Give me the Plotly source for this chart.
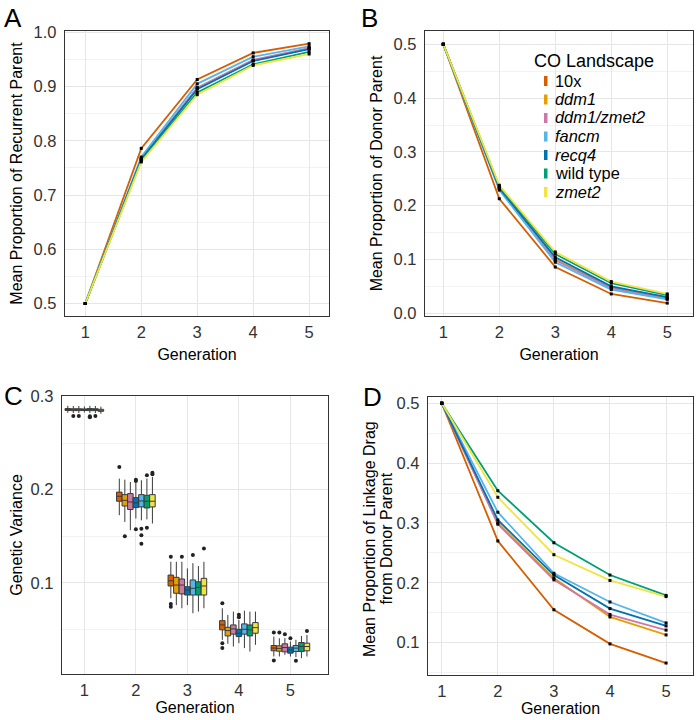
import plotly.graph_objects as go

# ---------------- data ----------------
landscapes = ["10x", "ddm1", "ddm1/zmet2", "fancm", "recq4", "wild type", "zmet2"]
legend_labels = ["10x", "<i>ddm1</i>", "<i>ddm1/zmet2</i>", "<i>fancm</i>",
                 "<i>recq4</i>", "wild type", "<i>zmet2</i>"]
colors = ["#D55E00", "#E69F00", "#CC79A7", "#56B4E9", "#0072B2", "#009E73", "#F0E442"]
generations = [1, 2, 3, 4, 5]

# Panel A: mean proportion of recurrent parent (rows follow `landscapes`)
recurrent_parent = [
    [0.5, 0.786, 0.913, 0.962, 0.979],
    [0.5, 0.767, 0.897, 0.948, 0.970],
    [0.5, 0.767, 0.898, 0.949, 0.971],
    [0.5, 0.770, 0.905, 0.955, 0.974],
    [0.5, 0.766, 0.895, 0.947, 0.969],
    [0.5, 0.763, 0.889, 0.941, 0.964],
    [0.5, 0.761, 0.885, 0.939, 0.960],
]

# Panel B: mean proportion of donor parent
donor_parent = [
    [0.5, 0.213, 0.086, 0.036, 0.019],
    [0.5, 0.232, 0.100, 0.048, 0.028],
    [0.5, 0.232, 0.099, 0.047, 0.027],
    [0.5, 0.229, 0.095, 0.044, 0.026],
    [0.5, 0.233, 0.104, 0.050, 0.030],
    [0.5, 0.236, 0.110, 0.056, 0.034],
    [0.5, 0.238, 0.114, 0.059, 0.036],
]

# Panel D: mean proportion of linkage drag from donor parent
linkage_drag = [
    [0.5, 0.270, 0.155, 0.098, 0.066],
    [0.5, 0.300, 0.208, 0.143, 0.113],
    [0.5, 0.298, 0.205, 0.147, 0.121],
    [0.5, 0.318, 0.216, 0.168, 0.133],
    [0.5, 0.305, 0.213, 0.157, 0.128],
    [0.5, 0.354, 0.267, 0.213, 0.179],
    [0.5, 0.343, 0.247, 0.204, 0.177],
]

# Panel C: genetic variance box statistics (rows follow `landscapes`)
box_slot = [0, 1, 2, 4, 3, 5, 6]   # dodge position of each landscape in panel C
var_q1 = [
    [0.2850, 0.1875, 0.0965, 0.0494, 0.0269],
    [0.2848, 0.1824, 0.0887, 0.0429, 0.0265],
    [0.2848, 0.1786, 0.0880, 0.0448, 0.0258],
    [0.2848, 0.1814, 0.0868, 0.0448, 0.0261],
    [0.2850, 0.1807, 0.0868, 0.0422, 0.0244],
    [0.2848, 0.1803, 0.0868, 0.0429, 0.0261],
    [0.2840, 0.1814, 0.0868, 0.0458, 0.0269],
]
var_median = [
    [0.2860, 0.1928, 0.1021, 0.0547, 0.0298],
    [0.2858, 0.1885, 0.0975, 0.0486, 0.0295],
    [0.2858, 0.1867, 0.0975, 0.0504, 0.0304],
    [0.2860, 0.1878, 0.0940, 0.0500, 0.0298],
    [0.2858, 0.1857, 0.0922, 0.0458, 0.0279],
    [0.2858, 0.1875, 0.0950, 0.0494, 0.0315],
    [0.2852, 0.1875, 0.0965, 0.0518, 0.0315],
]
var_q3 = [
    [0.2870, 0.1973, 0.1082, 0.0593, 0.0326],
    [0.2868, 0.1946, 0.1058, 0.0522, 0.0322],
    [0.2868, 0.1957, 0.1040, 0.0547, 0.0344],
    [0.2870, 0.1946, 0.1030, 0.0558, 0.0326],
    [0.2866, 0.1914, 0.0957, 0.0500, 0.0308],
    [0.2868, 0.1939, 0.1010, 0.0547, 0.0358],
    [0.2862, 0.1946, 0.1047, 0.0572, 0.0351],
]
var_lower = [
    [0.2825, 0.1725, 0.0833, 0.0387, 0.0208],
    [0.2822, 0.1653, 0.0760, 0.0344, 0.0208],
    [0.2822, 0.1564, 0.0726, 0.0315, 0.0226],
    [0.2822, 0.1670, 0.0672, 0.0298, 0.0201],
    [0.2828, 0.1690, 0.0760, 0.0351, 0.0208],
    [0.2822, 0.1680, 0.0690, 0.0261, 0.0190],
    [0.2815, 0.1636, 0.0726, 0.0333, 0.0208],
]
var_upper = [
    [0.2900, 0.2118, 0.1225, 0.0726, 0.0422],
    [0.2898, 0.2107, 0.1225, 0.0654, 0.0404],
    [0.2898, 0.2081, 0.1225, 0.0690, 0.0405],
    [0.2900, 0.2100, 0.1210, 0.0700, 0.0387],
    [0.2893, 0.2070, 0.1154, 0.0600, 0.0369],
    [0.2898, 0.2118, 0.1180, 0.0690, 0.0429],
    [0.2890, 0.2135, 0.1225, 0.0690, 0.0440],
]
outlier_landscape = [
    "ddm1", "ddm1/zmet2", "fancm", "fancm", "wild type",
    "10x", "ddm1", "recq4", "recq4", "recq4", "fancm", "fancm", "fancm",
    "wild type", "wild type", "zmet2", "zmet2",
    "10x", "10x", "10x", "ddm1/zmet2", "fancm", "zmet2",
    "10x", "10x", "10x", "recq4", "recq4",
    "10x", "10x", "ddm1", "ddm1/zmet2", "recq4", "fancm", "zmet2",
]
outlier_gen = [
    1, 1, 1, 1, 1,
    2, 2, 2, 2, 2, 2, 2, 2,
    2, 2, 2, 2,
    3, 3, 3, 3, 3, 3,
    4, 4, 4, 4, 4,
    5, 5, 5, 5, 5, 5, 5,
]
outlier_value = [
    0.2790, 0.2790, 0.2778, 0.2788, 0.2790,
    0.2242, 0.1500, 0.2107, 0.2092, 0.1575, 0.1580, 0.1510, 0.1418,
    0.2153, 0.1590, 0.2180, 0.2166,
    0.1278, 0.0772, 0.0743, 0.1280, 0.1297, 0.1368,
    0.0779, 0.0351, 0.0298, 0.0655, 0.0630,
    0.0465, 0.0165, 0.0465, 0.0447, 0.0405, 0.0162, 0.0483,
]

# ---------------- figure ----------------
W, H = 700, 720
FONT = "Liberation Sans, Arial, Helvetica, sans-serif"
TICK = 16.5
fig = go.Figure()


def line_panel(values, xa, ya):
    for i, name in enumerate(landscapes):
        fig.add_trace(go.Scatter(
            x=generations, y=values[i], mode="lines", name=name,
            line=dict(color=colors[i], width=1.8), showlegend=False,
            xaxis=xa, yaxis=ya))
    for i, name in enumerate(landscapes):
        fig.add_trace(go.Scatter(
            x=generations, y=values[i], mode="markers", name=name,
            marker=dict(color="black", size=3, symbol="square"),
            showlegend=False, xaxis=xa, yaxis=ya))


line_panel(recurrent_parent, "x", "y")
line_panel(donor_parent, "x2", "y2")
line_panel(linkage_drag, "x4", "y4")

# Panel C boxes
dodge = 0.75
n = len(landscapes)
bw = dodge / n
for i, name in enumerate(landscapes):
    off = (box_slot[i] - (n - 1) / 2) * bw
    xs = [g + off for g in generations]
    fig.add_trace(go.Box(
        x=xs, q1=var_q1[i], median=var_median[i], q3=var_q3[i],
        lowerfence=var_lower[i], upperfence=var_upper[i],
        width=bw, whiskerwidth=0, fillcolor=colors[i],
        line=dict(color="#3a3a3a", width=1), name=name, showlegend=False,
        xaxis="x3", yaxis="y3"))
    ox = [g + off for g, l in zip(outlier_gen, outlier_landscape) if l == name]
    oy = [v for v, l in zip(outlier_value, outlier_landscape) if l == name]
    fig.add_trace(go.Scatter(
        x=ox, y=oy, mode="markers", name=name,
        marker=dict(color="#222222", size=4), showlegend=False,
        xaxis="x3", yaxis="y3"))


def px_dom_x(a, b):
    return [a / W, b / W]


def px_dom_y(top, bottom):
    return [1 - bottom / H, 1 - top / H]


def xaxis(dom, rng, anchor, standoff):
    return dict(domain=dom, range=rng, anchor=anchor, dtick=1, tick0=0,
                showline=True, mirror=True, linecolor="#333333", linewidth=1.3,
                showgrid=True, gridcolor="#E6E6E6", gridwidth=1, zeroline=False,
                ticks="", ticklabelstandoff=1,
                tickfont=dict(size=TICK, color="#333333", family=FONT),
                title=dict(text="Generation", standoff=standoff,
                           font=dict(size=16, color="black", family=FONT)),
                automargin=False)


def yaxis(dom, rng, anchor, title, standoff):
    return dict(domain=dom, range=rng, anchor=anchor, dtick=0.1, tick0=0,
                tickformat=".1f",
                showline=True, mirror=True, linecolor="#333333", linewidth=1.3,
                showgrid=True, gridcolor="#E6E6E6", gridwidth=1, zeroline=False,
                minor=dict(dtick=0.05, tick0=0, showgrid=True,
                           gridcolor="#F3F3F3", gridwidth=1),
                ticks="", ticklabelstandoff=4,
                tickfont=dict(size=TICK, color="#333333", family=FONT),
                title=dict(text=title, standoff=standoff,
                           font=dict(size=16, color="black", family=FONT)),
                automargin=False)


fig.update_layout(
    width=W, height=H,
    margin=dict(l=0, r=0, t=0, b=0),
    paper_bgcolor="white", plot_bgcolor="white",
    font=dict(family=FONT, color="black"),
    showlegend=False,
    boxmode="overlay",
    xaxis=xaxis(px_dom_x(65, 329), [0.6375, 5.355], "y", 8),
    yaxis=yaxis(px_dom_y(31, 316), [0.477, 1.0024], "x",
                "Mean Proportion of Recurrent Parent", 7),
    xaxis2=xaxis(px_dom_x(425, 693), [0.673, 5.46], "y2", 8),
    yaxis2=yaxis(px_dom_y(31, 316), [-0.005, 0.5247], "x2",
                 "Mean Proportion of Donor Parent", 7),
    xaxis3=xaxis(px_dom_x(62, 328), [0.566, 5.73], "y3", 3),
    yaxis3=yaxis(px_dom_y(396, 674), [0.002, 0.3005], "x3",
                 "Genetic Variance", 4),
    xaxis4=xaxis(px_dom_x(428, 693), [0.755, 5.48], "y4", 3),
    yaxis4=yaxis(px_dom_y(397, 675), [0.046, 0.5105], "x4", "", 0),
)

annotations = []
# panel D y-axis title, two tightly spaced lines
for txt, cx in [("Mean Proportion of Linkage Drag", 369), ("from Donor Parent", 385.5)]:
    annotations.append(dict(text=txt, x=cx / W, y=1 - 539 / H, xref="paper", yref="paper",
                            xanchor="center", yanchor="middle", textangle=-90,
                            borderpad=0,
                            showarrow=False, font=dict(size=16, color="black", family=FONT)))

# panel letters
for letter, cx, cy in [("A", 12.5, 17.5), ("B", 369, 17.5), ("C", 13, 396), ("D", 372, 397)]:
    annotations.append(dict(text=letter, x=cx / W, y=1 - cy / H, xref="paper", yref="paper",
                            xanchor="center", yanchor="middle", showarrow=False,
                            font=dict(size=26, color="black", family=FONT)))

# legend (drawn inside panel B)
annotations.append(dict(text="CO Landscape", x=532.5 / W, y=1 - 61 / H, xref="paper",
                        yref="paper", xanchor="left", yanchor="middle", showarrow=False,
                        borderpad=0,
                        font=dict(size=18, color="black", family=FONT)))
shapes = []
item_y0, item_dy = 80.5, 18.5
for i, lab in enumerate(legend_labels):
    cy = item_y0 + i * item_dy
    annotations.append(dict(text=lab, x=554 / W, y=1 - cy / H, xref="paper", yref="paper",
                            xanchor="left", yanchor="middle", showarrow=False,
                            borderpad=0,
                            font=dict(size=16.4, color="black", family=FONT)))
    shapes.append(dict(type="rect", xref="paper", yref="paper",
                       x0=544 / W, x1=547.5 / W, y0=1 - (cy + 5.5) / H, y1=1 - (cy - 4.5) / H,
                       fillcolor=colors[i], line=dict(width=0)))

fig.update_layout(annotations=annotations, shapes=shapes)

fig.write_html("out.html", config={"displayModeBar": False},
               post_script="document.body.style.margin='0';document.body.style.padding='0';")
